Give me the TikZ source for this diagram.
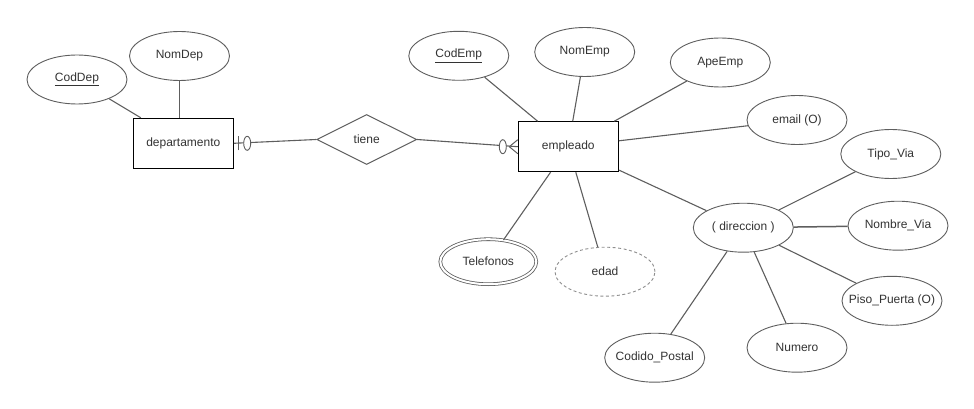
\documentclass[tikz,border=0pt]{standalone}
\usepackage{fontspec}
\setmainfont{Liberation Sans}
\usetikzlibrary{shapes.geometric}
\definecolor{linegray}{HTML}{5E5E5E}
\definecolor{textgray}{HTML}{333333}
\definecolor{dashgray}{HTML}{8E8E8E}
\tikzset{
  lbl/.style={font=\fontsize{12}{14}\selectfont, text=textgray},
  % fixed-size ellipse; the text is set as a centred label so long
  % names do not widen the shape
  attrshape/.style={ellipse, draw=linegray, line width=0.9pt, fill=white,
    minimum width=100pt, minimum height=49pt, inner sep=0pt},
  attr/.style={attrshape, label={[lbl, inner sep=0pt]center:#1}},
  multiattr/.style={attr=#1, double=white, double distance=2pt, line width=0.8pt,
    minimum width=96pt, minimum height=45pt},
  derivedattr/.style={attr=#1, draw=dashgray, dashed, dash pattern=on 3pt off 2.5pt},
  entity/.style={lbl, rectangle, draw=black, line width=1pt, fill=white,
    minimum width=100pt, minimum height=50pt, inner sep=0pt},
  relation/.style={lbl, diamond, draw=linegray, line width=1pt, fill=white,
    minimum width=100pt, minimum height=50pt, inner sep=0pt, aspect=2},
  link/.style={draw=linegray, line width=1.1pt},
  markring/.style={ellipse, draw=linegray, line width=0.9pt, fill=white,
    minimum width=7pt, minimum height=14pt, inner sep=0pt},
}
\begin{document}
\begin{tikzpicture}[x=1pt,y=-1pt]
  \useasboundingbox (0,0) rectangle (974,409);

  % entities and relationship
  \node[entity] (dep) at (183.3,143.3) {departamento};
  \node[entity] (emp) at (568.3,146.7) {empleado};
  \node[relation] (tiene) at (366.7,139.5) {tiene};

  % attributes of departamento
  \node[attr={\underline{CodDep}}] (coddep) at (77,79.5) {};
  \node[attr={NomDep}] (nomdep) at (179.5,56) {};

  % attributes of empleado
  \node[attr={\underline{CodEmp}}] (codemp) at (458.8,55.8) {};
  \node[attr={NomEmp}] (nomemp) at (584.7,52) {};
  \node[attr={ApeEmp}] (apeemp) at (720.3,62.5) {};
  \node[attr={email (O)}] (email) at (797,120) {};
  \node[multiattr={Telefonos}] (tel) at (488.3,261.7) {};
  \node[derivedattr={edad}] (edad) at (605,271.7) {};
  \node[attr={( direccion )}] (dir) at (743.3,227.7) {};

  % components of direccion
  \node[attr={Tipo\_Via}] (tipo) at (890.8,154) {};
  \node[attr={Nombre\_Via}] (nomvia) at (898,225.7) {};
  \node[attr={Piso\_Puerta (O)}] (piso) at (892,300.8) {};
  \node[attr={Numero}] (num) at (797,347.7) {};
  \node[attr={Codido\_Postal}] (cp) at (654.7,357.7) {};

  % attribute links
  \draw[link] (coddep) -- (dep);
  \draw[link] (nomdep.south) -- (nomdep.south |- dep.north);
  \draw[link] (codemp) -- (emp);
  \draw[link] (nomemp) -- (emp);
  \draw[link] (apeemp) -- (emp);
  \draw[link] (email) -- (emp);
  \draw[link] (tel) -- (emp);
  \draw[link] (edad) -- (emp);
  \draw[link] (dir) -- (emp);
  \draw[link] (tipo) -- (dir);
  \draw[link, line width=1.5pt] (nomvia) -- (dir);
  \draw[link] (piso) -- (dir);
  \draw[link] (num) -- (dir);
  \draw[link] (cp) -- (dir);

  % relationship links
  \draw[link] (dep.east) -- (tiene.west);
  \draw[link] (tiene.east) -- (emp.west);

  % zero-or-one marker at departamento
  \coordinate (barL) at ([xshift=5pt]dep.east);
  \draw[linegray, line width=1pt] ([yshift=-7pt]barL) -- ([yshift=7pt]barL);
  \node[markring] (ringL) at ([xshift=13.4pt]dep.east) {};

  % zero-or-many marker at empleado
  \coordinate (footR) at ([xshift=-8.5pt]emp.west);
  \draw[linegray, line width=1pt] (footR) -- ([yshift=-7pt]emp.west)
    (footR) -- ([yshift=7pt]emp.west);
  \node[markring] (ringR) at ([xshift=-15pt]emp.west) {};
\end{tikzpicture}
\end{document}
